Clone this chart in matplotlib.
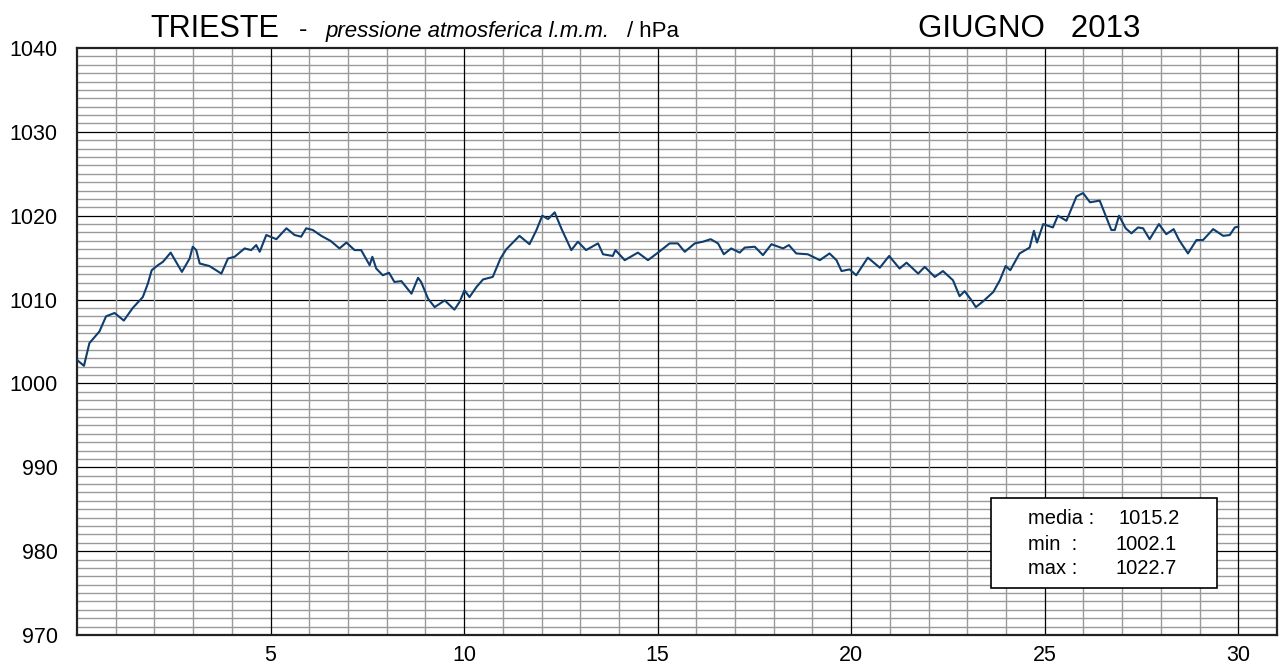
import numpy as np
import matplotlib.pyplot as plt

plt.rcParams['font.family'] = ['Liberation Sans', 'DejaVu Sans']

# Pressione atmosferica Trieste, giugno 2013
giorni = [0.00, 0.18, 0.32, 0.58, 0.75, 0.97, 1.21, 1.44, 1.70, 1.83, 1.93, 2.09,
          2.22, 2.42, 2.56, 2.71, 2.91, 2.99, 3.08, 3.17, 3.42, 3.73, 3.90, 4.07,
          4.33, 4.50, 4.63, 4.72, 4.89, 5.15, 5.41, 5.62, 5.79, 5.92, 6.09, 6.31,
          6.55, 6.78, 6.96, 7.17, 7.34, 7.56, 7.63, 7.73, 7.90, 8.06, 8.20, 8.38,
          8.64, 8.81, 8.89, 9.07, 9.24, 9.50, 9.75, 9.88, 10.01, 10.14, 10.32, 10.49,
          10.74, 10.94, 11.09, 11.43, 11.69, 11.87, 12.02, 12.17, 12.34, 12.51, 12.77, 12.94,
          13.15, 13.46, 13.59, 13.84, 13.91, 14.15, 14.49, 14.75, 15.01, 15.31, 15.52, 15.70,
          15.96, 16.17, 16.37, 16.56, 16.71, 16.90, 17.12, 17.25, 17.51, 17.72, 17.94, 18.24,
          18.39, 18.58, 18.88, 19.19, 19.44, 19.62, 19.75, 19.96, 20.13, 20.43, 20.74, 20.98,
          21.25, 21.43, 21.73, 21.90, 22.16, 22.37, 22.63, 22.80, 22.93, 23.11, 23.22, 23.41,
          23.67, 23.84, 23.99, 24.11, 24.35, 24.61, 24.72, 24.80, 24.96, 25.21, 25.34, 25.56,
          25.65, 25.82, 25.99, 26.17, 26.42, 26.72, 26.81, 26.92, 27.09, 27.24, 27.41, 27.54,
          27.71, 27.95, 28.14, 28.33, 28.47, 28.70, 28.92, 29.09, 29.35, 29.61, 29.78, 29.91,
          30.00]
pressione = [1002.8, 1002.1, 1004.8, 1006.2, 1008.0, 1008.4, 1007.5, 1009.0, 1010.3, 1011.9, 1013.5, 1014.1,
             1014.5, 1015.6, 1014.5, 1013.3, 1014.9, 1016.3, 1015.9, 1014.3, 1014.0, 1013.1, 1014.9, 1015.1,
             1016.1, 1015.9, 1016.5, 1015.7, 1017.7, 1017.2, 1018.5, 1017.7, 1017.5, 1018.5, 1018.3, 1017.6,
             1017.0, 1016.1, 1016.8, 1015.9, 1015.9, 1014.1, 1015.1, 1013.7, 1012.9, 1013.2, 1012.1, 1012.2,
             1010.7, 1012.6, 1012.1, 1010.1, 1009.1, 1009.9, 1008.8, 1009.7, 1011.1, 1010.3, 1011.5, 1012.4,
             1012.7, 1014.9, 1016.0, 1017.6, 1016.6, 1018.3, 1020.0, 1019.6, 1020.4, 1018.5, 1015.9, 1016.9,
             1015.9, 1016.7, 1015.4, 1015.2, 1015.9, 1014.7, 1015.6, 1014.7, 1015.6, 1016.7, 1016.7, 1015.7,
             1016.7, 1016.9, 1017.2, 1016.7, 1015.4, 1016.1, 1015.6, 1016.2, 1016.3, 1015.3, 1016.6, 1016.1,
             1016.5, 1015.5, 1015.4, 1014.7, 1015.5, 1014.7, 1013.4, 1013.6, 1012.9, 1015.0, 1013.8, 1015.2,
             1013.7, 1014.4, 1013.1, 1013.9, 1012.7, 1013.4, 1012.3, 1010.4, 1011.0, 1009.9, 1009.1, 1009.8,
             1010.9, 1012.3, 1014.0, 1013.5, 1015.5, 1016.2, 1018.2, 1016.8, 1019.0, 1018.6, 1020.0, 1019.4,
             1020.4, 1022.3, 1022.7, 1021.6, 1021.8, 1018.3, 1018.3, 1020.0, 1018.5, 1017.9, 1018.6, 1018.5,
             1017.2, 1019.0, 1017.8, 1018.4, 1017.1, 1015.5, 1017.1, 1017.1, 1018.4, 1017.6, 1017.7, 1018.6,
             1018.7]

media, pmin, pmax = 1015.2, 1002.1, 1022.7
etichette_x = [5, 10, 15, 20, 25, 30]
etichette_y = [970, 980, 990, 1000, 1010, 1020, 1030, 1040]

W, H = 1285, 666
fig = plt.figure(figsize=(W / 100, H / 100), dpi=100)
ax = fig.add_axes([77 / W, 31 / H, 1200 / W, 587 / H])

ax.set_xlim(0, 31)
ax.set_ylim(970, 1040)

# griglia: righe ogni hPa e colonne ogni giorno, piu' scure ogni 10 hPa / 5 giorni
for v in range(971, 1040):
    c, lw = ('black', 0.9) if v % 10 == 0 else ('#9a9a9a', 1.0)
    ax.axhline(v, color=c, lw=lw, zorder=1)
for d in range(1, 31):
    c, lw = ('black', 0.9) if d % 5 == 0 else ('#9a9a9a', 1.0)
    ax.axvline(d, color=c, lw=lw, zorder=1)

ax.plot(giorni, pressione, color='#0e3d6e', lw=1.5, zorder=3)

ax.set_xticks(etichette_x)
ax.set_yticks(etichette_y)
ax.set_xticklabels([str(x) for x in etichette_x], fontsize=15.5)
ax.set_yticklabels([str(y) for y in etichette_y], fontsize=15.5)
ax.tick_params(axis='y', length=0, pad=14)
ax.tick_params(axis='x', length=0, pad=7)
for s in ax.spines.values():
    s.set_linewidth(1.6)
    s.set_color('#222222')

# titoli
fig.text(150 / W, 1 - 37 / H, 'TRIESTE', fontsize=22, va='baseline')
fig.text(299 / W, 1 - 37 / H, '-', fontsize=18, va='baseline')
fig.text(326 / W, 1 - 37 / H, 'pressione atmosferica l.m.m.', fontsize=16,
         style='italic', va='baseline')
fig.text(627 / W, 1 - 37 / H, '/ hPa', fontsize=16, va='baseline')
fig.text(918 / W, 1 - 37 / H, 'GIUGNO   2013', fontsize=22.5, va='baseline')

# riquadro con le statistiche
ax.add_patch(plt.Rectangle((991 / W, 1 - 588 / H), 226 / W, 90 / H,
                           transform=fig.transFigure, facecolor='white',
                           edgecolor='black', lw=1.2, zorder=5))
righe = [('media :', media, 518, 1180), ('min  :', pmin, 545, 1177), ('max :', pmax, 569, 1177)]
for nome, val, y, xr in righe:
    fig.text(1028 / W, 1 - y / H, nome, fontsize=14.5, va='center', zorder=6)
    fig.text(xr / W, 1 - y / H, f'{val:.1f}', fontsize=14.5, va='center',
             ha='right', zorder=6)

fig.savefig('out.png', dpi=100)
